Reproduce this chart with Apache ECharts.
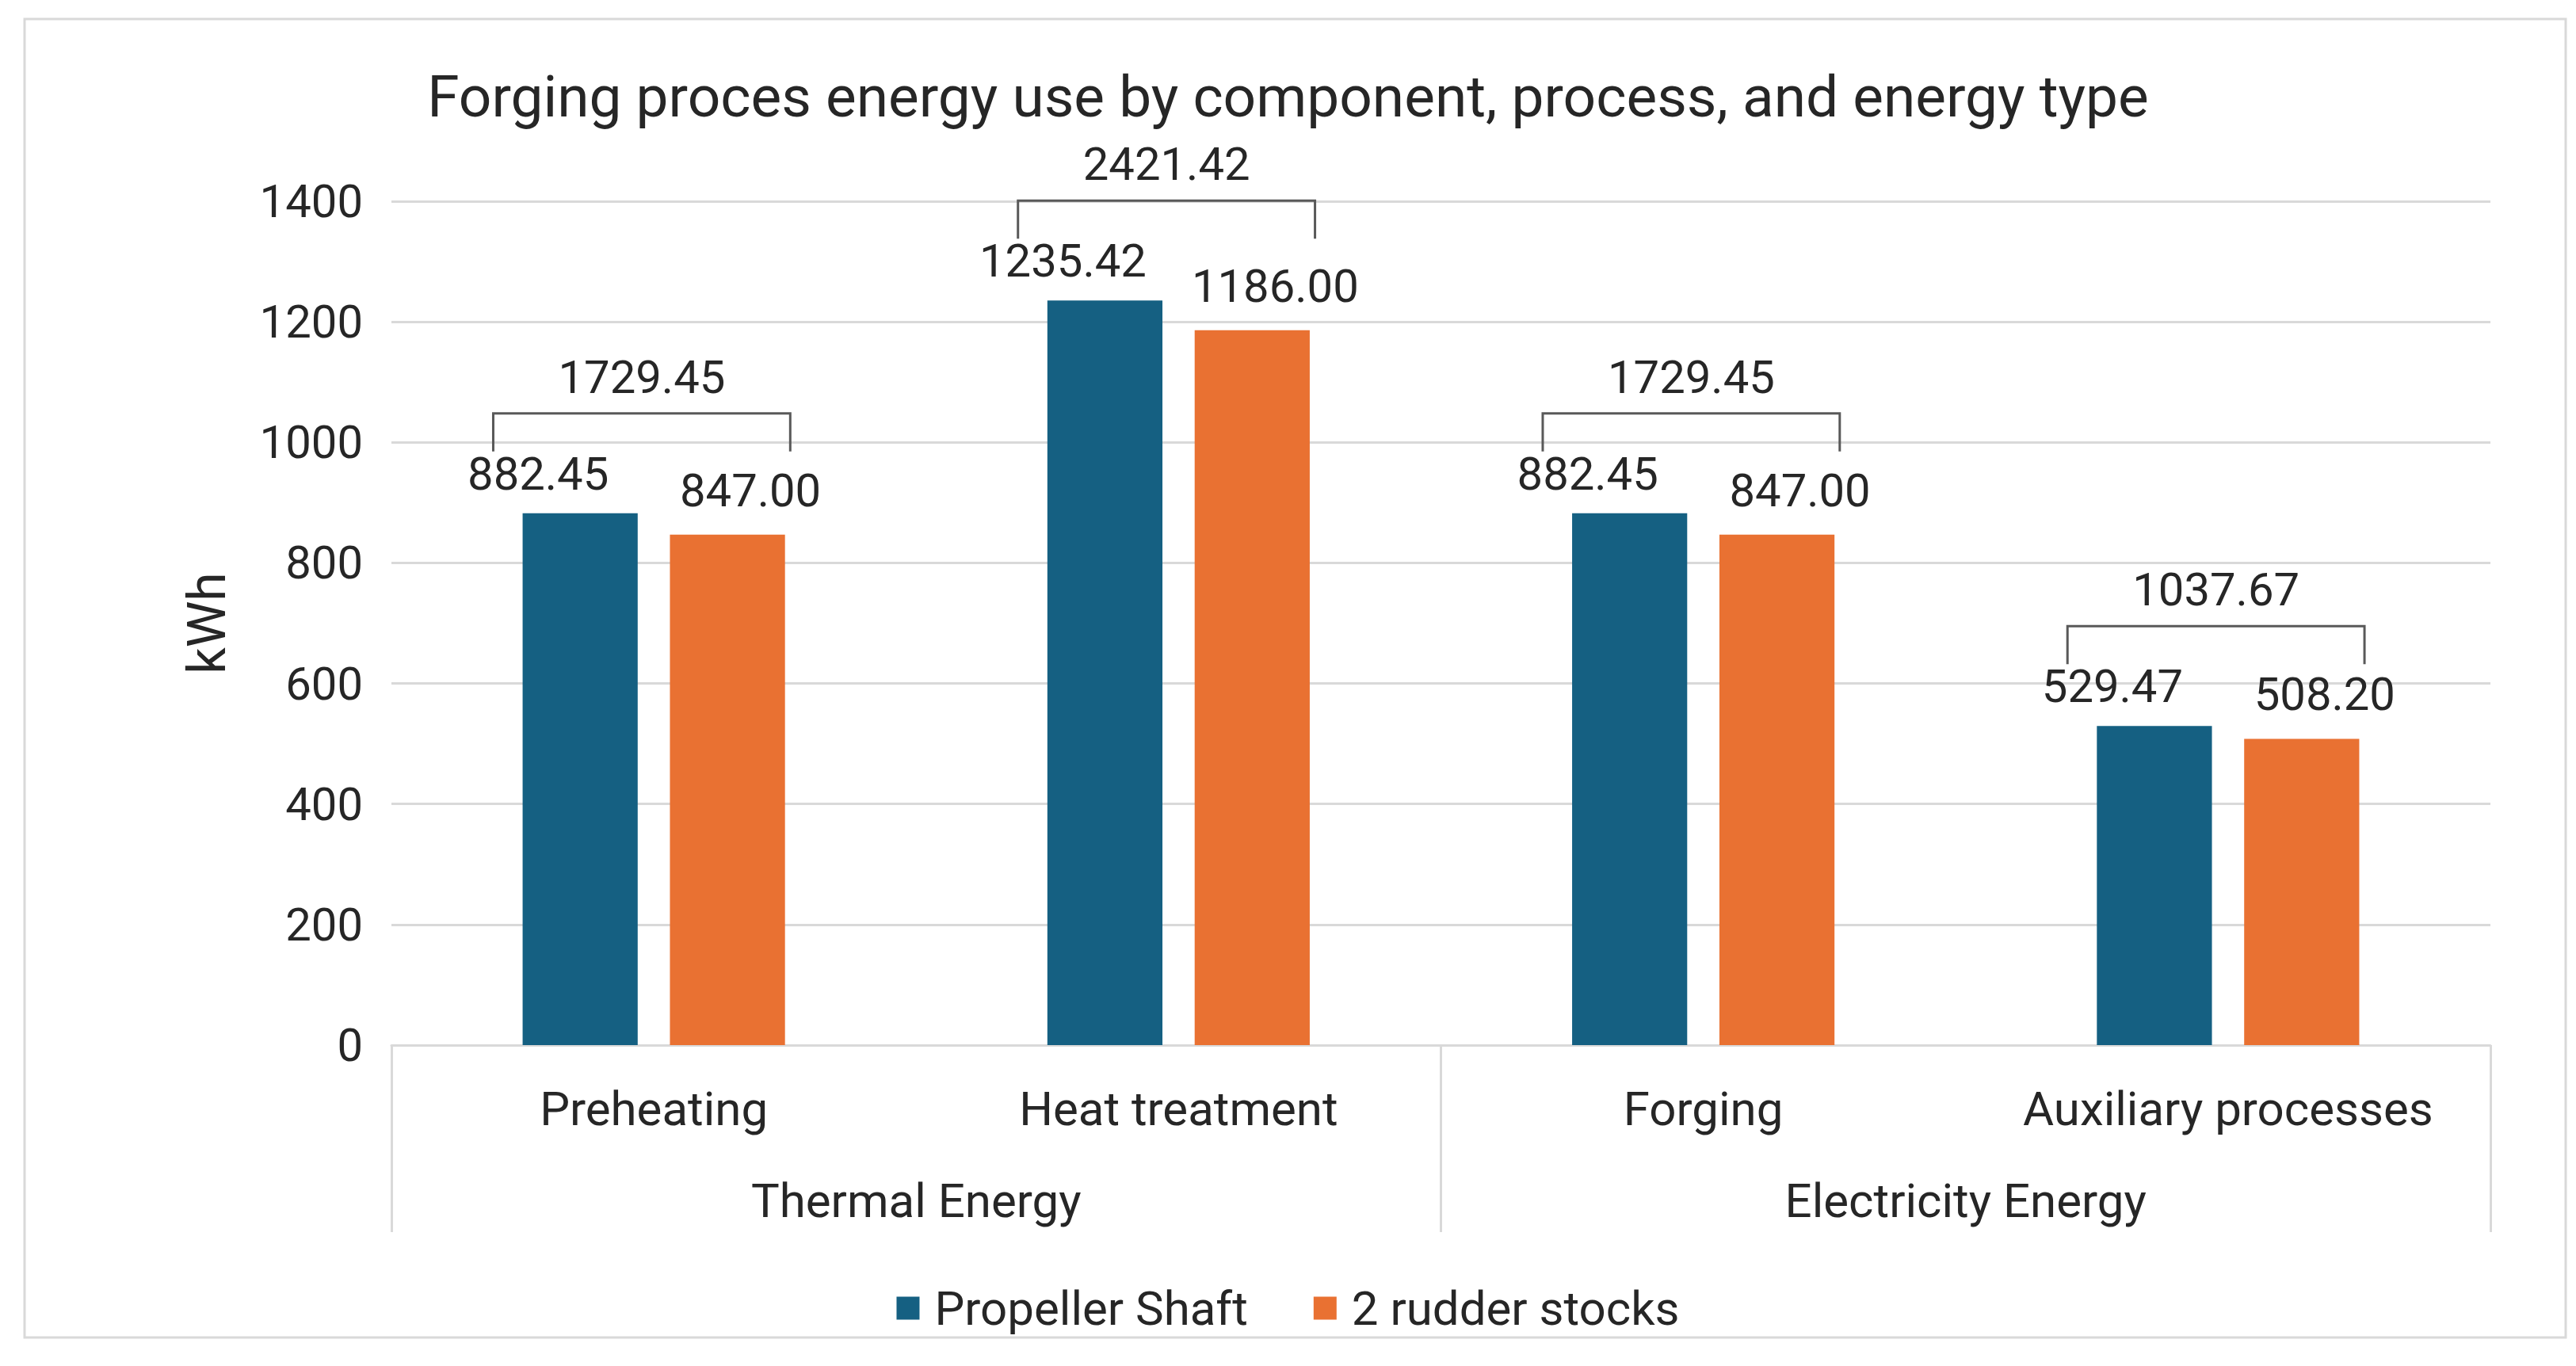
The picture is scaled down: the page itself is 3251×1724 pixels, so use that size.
<!DOCTYPE html>
<html><head><meta charset="utf-8">
<script src="https://cdn.jsdelivr.net/npm/echarts@6/dist/echarts.min.js"></script>
<style>html,body{margin:0;padding:0;background:#fff}#chart{width:3251px;height:1724px}</style>
</head><body><div id="chart"></div>
<script>
// ---- data ----
const processes = ['Preheating', 'Heat treatment', 'Forging', 'Auxiliary processes'];
const energyTypes = ['Thermal Energy', 'Electricity Energy'];
const seriesNames = ['Propeller Shaft', '2 rudder stocks'];
const propellerShaft = [882.45, 1235.42, 882.45, 529.47];
const rudderStocks = [847.00, 1186.00, 847.00, 508.20];
const yMin = 0, yMax = 1400, yStep = 200;
const titleText = 'Forging proces energy use by component, process, and energy type';
const yName = 'kWh';

// ---- styling ----
const FONT = 'Roboto';
const TXT = '#262626';
const GRID = '#d9d9d9';
const BLUE = '#156082', ORANGE = '#E97132';

const totals = processes.map((p, i) => [i, propellerShaft[i] + rudderStocks[i], Math.max(propellerShaft[i], rudderStocks[i])]);

const chart = echarts.init(document.getElementById('chart'), null, {renderer: 'svg'});
chart.setOption({
  backgroundColor: '#fff',
  animation: false,
  title: {
    text: titleText, left: 'center', top: 84, padding: 0,
    textStyle: {fontFamily: FONT, fontSize: 73, lineHeight: 76, fontWeight: 'normal', color: TXT}
  },
  legend: {
    data: seriesNames, bottom: 38, left: 'center', icon: 'rect',
    itemWidth: 29, itemHeight: 29, itemGap: 83,
    textStyle: {fontFamily: FONT, fontSize: 60, color: TXT, padding: [0, 0, 0, 14]}
  },
  graphic: [{
    type: 'rect', shape: {x: 31, y: 24, width: 3207, height: 1664},
    style: {fill: 'none', stroke: GRID, lineWidth: 3}, silent: true, z: -1
  }],
  grid: {left: 494, right: 108, top: 254, bottom: 405, containLabel: false},
  xAxis: [{
    type: 'category', data: processes, position: 'bottom',
    axisLine: {show: true, lineStyle: {color: GRID, width: 3}},
    axisTick: {show: false},
    axisLabel: {interval: 0, hideOverlap: false, margin: 50, fontFamily: FONT, fontSize: 60, color: TXT}
  }, {
    type: 'category', data: energyTypes, position: 'bottom', offset: 0,
    axisLine: {show: false},
    axisTick: {show: true, interval: 0, length: 236, lineStyle: {color: GRID, width: 3}},
    axisLabel: {interval: 0, hideOverlap: false, margin: 166, fontFamily: FONT, fontSize: 60, color: TXT}
  }],
  yAxis: {
    type: 'value', min: yMin, max: yMax, interval: yStep,
    name: yName, nameLocation: 'middle', nameGap: 200, nameRotate: 90,
    nameTextStyle: {fontFamily: FONT, fontSize: 66, color: TXT},
    axisLine: {show: false}, axisTick: {show: false},
    axisLabel: {margin: 36, fontFamily: FONT, fontSize: 58, color: TXT, formatter: v => String(v)},
    splitLine: {lineStyle: {color: GRID, width: 3}}
  },
  series: [{
    name: seriesNames[0], type: 'bar', xAxisIndex: 0, data: propellerShaft,
    barCategoryGap: '50%', barGap: '28%',
    itemStyle: {color: BLUE},
    label: {show: true, position: 'top', offset: [-53, -16], formatter: p => p.value.toFixed(2),
      fontFamily: FONT, fontSize: 58, color: TXT}
  }, {
    name: seriesNames[1], type: 'bar', xAxisIndex: 0, data: rudderStocks,
    barCategoryGap: '50%', barGap: '28%',
    itemStyle: {color: ORANGE},
    label: {show: true, position: 'top', offset: [29, -22], formatter: p => p.value.toFixed(2),
      fontFamily: FONT, fontSize: 58, color: TXT}
  }, {
    type: 'custom', xAxisIndex: 0, clip: false, silent: true, data: totals,
    renderItem: function (params, api) {
      const c = api.coord([api.value(0), api.value(2)]);
      const band = api.size([1, 0])[0];
      const x0 = c[0] - band * 0.306, x1 = c[0] + band * 0.26;
      const yLine = c[1] - 126, yLeg = yLine + 48;
      return {
        type: 'group', children: [{
          type: 'polyline',
          shape: {points: [[x0, yLeg], [x0, yLine], [x1, yLine], [x1, yLeg]]},
          style: {stroke: '#595959', lineWidth: 3, fill: null}
        }, {
          type: 'text', x: (x0 + x1) / 2, y: yLine - 46,
          style: {text: api.value(1).toFixed(2), fontFamily: FONT, fontSize: 58, fill: TXT,
            align: 'center', verticalAlign: 'middle'}
        }]
      };
    }
  }]
});
</script></body></html>
